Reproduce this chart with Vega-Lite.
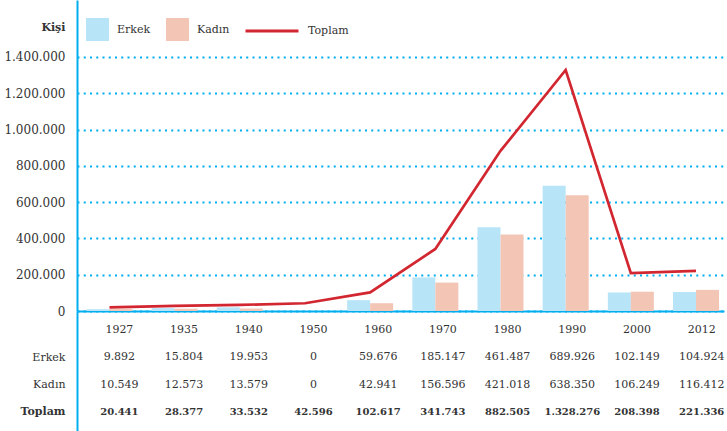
{
  "$schema": "https://vega.github.io/schema/vega-lite/v6.json",
  "padding": {"left": 3, "top": 0, "right": 0, "bottom": 0},
  "spacing": 0,
  "bounds": "flush",
  "background": "white",
  "config": {
    "view": {"stroke": null},
    "locale": {"number": {"decimal": ",", "thousands": ".", "grouping": [3], "currency": ["", ""]}},
    "font": "DejaVu Serif",
    "axis": {"labelFont": "DejaVu Serif", "labelColor": "#333333", "titleColor": "#333333", "titleFont": "DejaVu Serif"},
    "legend": {"labelFont": "DejaVu Serif", "labelFontSize": 11, "labelColor": "#333333"},
    "text": {"font": "DejaVu Serif"}
  },
  "datasets": {
    "pop": [
      {"year": "1927", "Erkek": 9892, "Kadın": 10549, "Toplam": 20441},
      {"year": "1935", "Erkek": 15804, "Kadın": 12573, "Toplam": 28377},
      {"year": "1940", "Erkek": 19953, "Kadın": 13579, "Toplam": 33532},
      {"year": "1950", "Erkek": 0, "Kadın": 0, "Toplam": 42596},
      {"year": "1960", "Erkek": 59676, "Kadın": 42941, "Toplam": 102617},
      {"year": "1970", "Erkek": 185147, "Kadın": 156596, "Toplam": 341743},
      {"year": "1980", "Erkek": 461487, "Kadın": 421018, "Toplam": 882505},
      {"year": "1990", "Erkek": 689926, "Kadın": 638350, "Toplam": 1328276},
      {"year": "2000", "Erkek": 102149, "Kadın": 106249, "Toplam": 208398},
      {"year": "2012", "Erkek": 104924, "Kadın": 116412, "Toplam": 221336}
    ]
  },
  "vconcat": [
    {
      "width": 647,
      "height": 311,
      "data": {"name": "pop"},
      "layer": [
        {
          "transform": [{"fold": ["Erkek", "Kadın"], "as": ["cins", "deger"]}],
          "mark": {"type": "bar"},
          "encoding": {
            "x": {
              "field": "year", "type": "ordinal",
              "scale": {"paddingInner": 0.294, "paddingOuter": 0.111, "align": 0.655},
              "axis": {"labels": false, "ticks": false, "title": null, "domainColor": "#00aeef", "domainWidth": 2, "grid": false, "minExtent": 0, "maxExtent": 0}
            },
            "xOffset": {"field": "cins", "type": "nominal", "scale": {"domain": ["Erkek", "Kadın"]}},
            "y": {
              "field": "deger", "type": "quantitative",
              "scale": {"domain": [0, 1714000], "nice": false},
              "axis": {
                "values": [0, 200000, 400000, 600000, 800000, 1000000, 1200000, 1400000],
                "format": ",d",
                "title": "Kişi",
                "titleAngle": 0, "titleX": -12, "titleY": 27, "titleAlign": "right", "titleBaseline": "middle",
                "titleFontWeight": "bold", "titleFontSize": 11,
                "labelFontSize": 12, "labelPadding": 12,
                "ticks": false,
                "domainColor": "#00aeef", "domainWidth": 2,
                "grid": true, "gridColor": "#00aeef", "gridDash": [2, 4.25], "gridWidth": 2
              }
            },
            "fill": {
              "field": "cins", "type": "nominal",
              "scale": {"domain": ["Erkek", "Kadın"], "range": ["#b8e4f8", "#f2c5b5"]},
              "legend": {"orient": "none", "legendX": 9, "legendY": 18, "direction": "horizontal", "title": null, "symbolType": "square", "symbolSize": 529, "symbolStrokeWidth": 0, "labelOffset": 8, "columnPadding": 15}
            }
          }
        },
        {
          "transform": [{"fold": ["Toplam"], "as": ["seri", "deger"]}],
          "mark": {"type": "line", "strokeWidth": 2.7},
          "encoding": {
            "x": {"field": "year", "type": "ordinal"},
            "y": {"field": "deger", "type": "quantitative"},
            "stroke": {
              "field": "seri", "type": "nominal",
              "scale": {"domain": ["Toplam"], "range": ["#d22630"]},
              "legend": {"orient": "none", "legendX": 167, "legendY": 3, "title": null, "symbolType": "stroke", "symbolSize": 2809, "symbolStrokeWidth": 3, "labelOffset": 8}
            }
          }
        }
      ]
    },
    {
      "width": 647,
      "height": 120,
      "data": {"name": "pop"},
      "layer": [
        {
          "mark": {"type": "text", "fontSize": 11, "color": "#333333"},
          "encoding": {
            "x": {"field": "year", "type": "ordinal", "axis": null, "scale": {"paddingInner": 0.294, "paddingOuter": 0.111, "align": 0.655}},
            "y": {
              "datum": "Yıl", "type": "ordinal",
              "scale": {"type": "point", "domain": ["Yıl", "Erkek", "Kadın", "Toplam"], "padding": 0.72},
              "axis": {
                "title": null,
                "labelExpr": "datum.value === 'Yıl' ? '' : datum.value",
                "labelFontSize": 11,
                "labelFontWeight": {"condition": {"test": "datum.value === 'Toplam'", "value": "bold"}, "value": "normal"},
                "ticks": false, "labelPadding": 12,
                "domainColor": "#00aeef", "domainWidth": 2, "grid": false
              }
            },
            "text": {"field": "year", "type": "nominal"}
          }
        },
        {
          "transform": [{"fold": ["Erkek", "Kadın"], "as": ["cins", "deger"]}],
          "mark": {"type": "text", "fontSize": 11, "color": "#333333"},
          "encoding": {
            "x": {"field": "year", "type": "ordinal"},
            "y": {"field": "cins", "type": "ordinal"},
            "text": {"field": "deger", "type": "quantitative", "format": ","}
          }
        },
        {
          "mark": {"type": "text", "fontSize": 10, "fontWeight": "bold", "color": "#333333"},
          "encoding": {
            "x": {"field": "year", "type": "ordinal"},
            "y": {"datum": "Toplam", "type": "ordinal"},
            "text": {"field": "Toplam", "type": "quantitative", "format": ","}
          }
        }
      ]
    }
  ]
}
